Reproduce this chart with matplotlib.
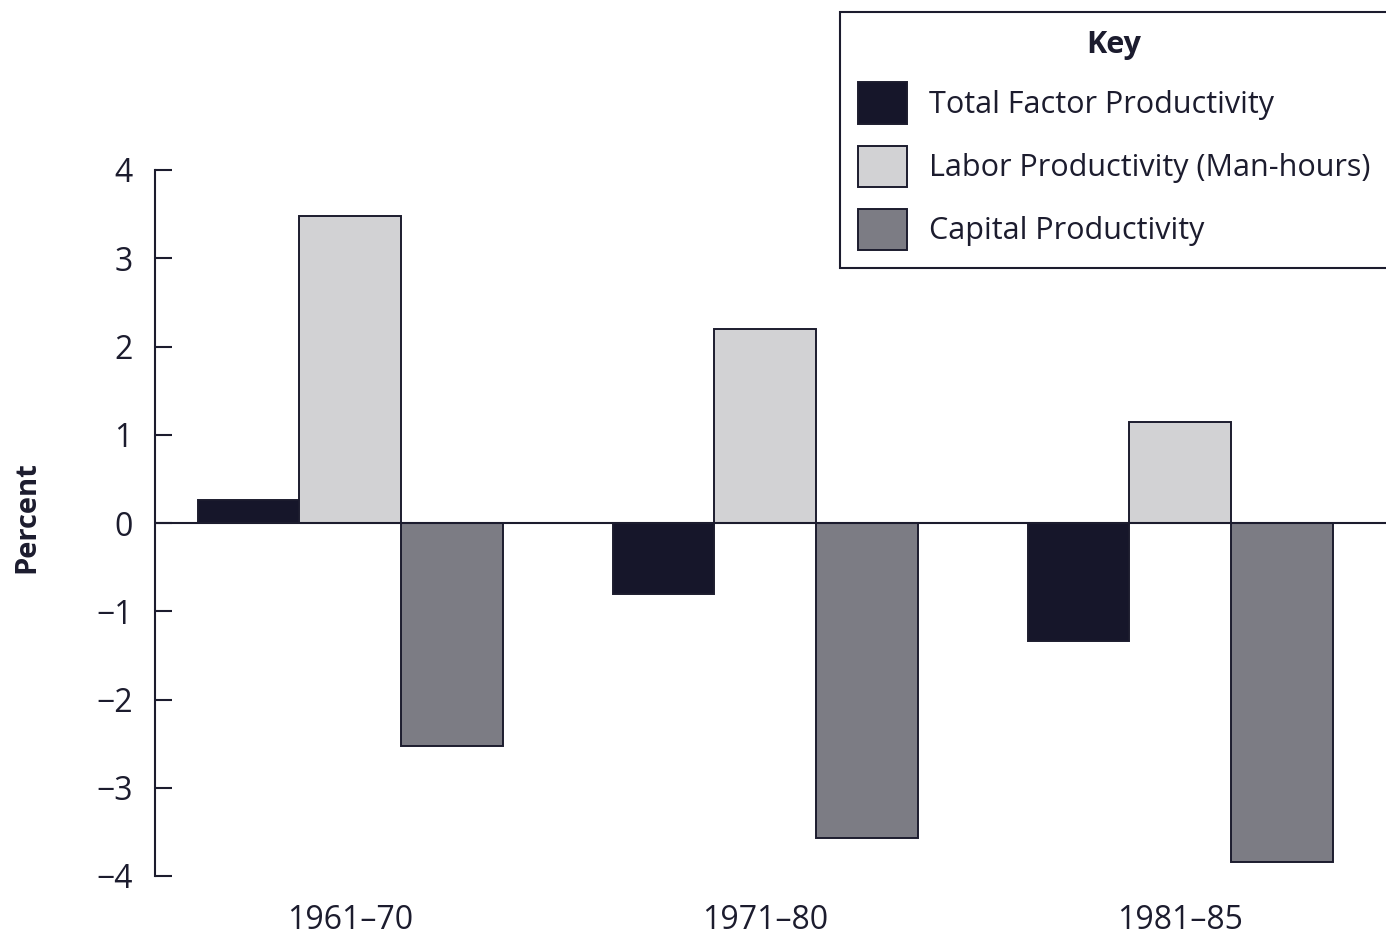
import matplotlib
matplotlib.use("Agg")
import matplotlib.pyplot as plt
import numpy as np

# values (percent, average annual change)
periods = ["1961–70", "1971–80", "1981–85"]
series_names = ["Total Factor Productivity", "Labor Productivity (Man-hours)", "Capital Productivity"]
total_factor = [0.26, -0.80, -1.34]
labor = [3.48, 2.20, 1.15]
capital = [-2.53, -3.57, -3.84]

colors = ["#16162a", "#d2d2d4", "#7c7c84"]
ink = "#1c1c2e"

plt.rcParams["font.family"] = ["Open Sans", "DejaVu Sans"]

fig = plt.figure(figsize=(13.86, 9.40), dpi=100)
ax = fig.add_axes([155 / 1386, 64 / 940, 1 - 155 / 1386, (876 - 170) / 940])

x = np.arange(len(periods))
width = 0.245
handles = []
for i, (vals, name) in enumerate(zip([total_factor, labor, capital], series_names)):
    b = ax.bar(x + (i - 1) * width, vals, width, color=colors[i], edgecolor=ink,
               linewidth=1.4, label=name, zorder=2)
    handles.append(b)

ax.axhline(0, color=ink, linewidth=1.5, zorder=3)

ax.set_ylim(-4, 4)
ax.set_xlim(-0.47, 2.496)
ax.set_yticks(range(-4, 5))
ax.set_yticklabels([str(v).replace("-", "−") for v in range(-4, 5)])
ax.set_xticks(x)
ax.set_xticklabels(periods)

for side in ["top", "right", "bottom"]:
    ax.spines[side].set_visible(False)
ax.spines["left"].set_color(ink)
ax.spines["left"].set_linewidth(1.5)

ax.tick_params(axis="y", direction="in", length=12, width=1.5, color=ink,
               labelsize=23, labelcolor=ink, pad=16)
ax.tick_params(axis="x", length=0, labelsize=23, labelcolor=ink, pad=20)

fig.text(27 / 1386, 1 - 517 / 940, "Percent", rotation=90, ha="center", va="center",
         fontsize=21, fontweight="bold", color=ink)

leg = fig.legend(handles=handles, loc="upper left", bbox_to_anchor=(840 / 1386, 1 - 12 / 940),
                 title="Key", fontsize=22, title_fontproperties={"weight": "bold", "size": 22},
                 frameon=True, fancybox=False, edgecolor=ink, framealpha=1,
                 handlelength=1.6, handleheight=1.7, handletextpad=0.7,
                 labelspacing=0.72, borderpad=0.6, borderaxespad=0)
leg.get_frame().set_linewidth(1.5)
for t in leg.get_texts():
    t.set_color(ink)
leg.get_title().set_color(ink)

fig.savefig("out.png", dpi=100)
